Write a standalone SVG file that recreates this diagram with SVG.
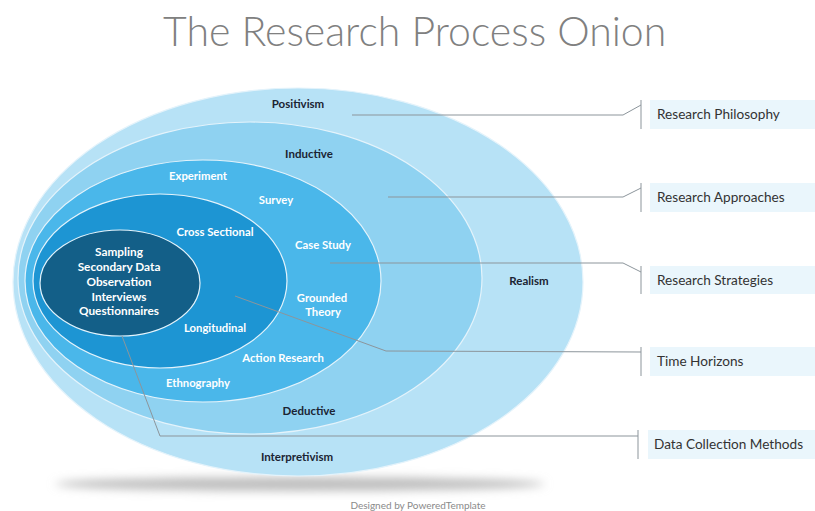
<svg xmlns="http://www.w3.org/2000/svg" width="815" height="511" viewBox="0 0 815 511">
  <defs>
    <filter id="soft" x="-20%" y="-200%" width="140%" height="500%">
      <feGaussianBlur stdDeviation="5"/>
    </filter>
    <style>
      .title { font-family: Lato, "Open Sans", sans-serif; font-weight: 300; font-size: 41px; fill: #808080; }
      .dark { font-family: Lato, "Open Sans", sans-serif; font-weight: 700; font-size: 11.5px; fill: #1b2433; text-anchor: middle; }
      .light { font-family: Lato, "Open Sans", sans-serif; font-weight: 700; font-size: 11.3px; fill: #ffffff; text-anchor: middle; }
      .core { font-family: Lato, "Open Sans", sans-serif; font-weight: 700; font-size: 11.8px; fill: #ffffff; text-anchor: middle; }
      .lbl { font-family: Lato, "Open Sans", sans-serif; font-size: 13.6px; fill: #333333; }
      .credit { font-family: Lato, "Open Sans", sans-serif; font-size: 10px; fill: #8a8a8a; text-anchor: middle; }
      .ring { stroke: #e4f3fb; stroke-width: 1.2; }
      .lead { fill: none; stroke: #8c959b; stroke-width: 1; }
      .box { fill: #eaf6fc; }
    </style>
  </defs>

  <rect width="815" height="511" fill="#ffffff"/>

  <text class="title" x="163" y="46">The Research Process Onion</text>

  <!-- ground shadow -->
  <ellipse cx="300" cy="484" rx="245" ry="7" fill="#bdbdbd" filter="url(#soft)"/>

  <!-- onion layers, outer to inner -->
  <g id="layer-philosophy">
    <ellipse class="ring" cx="298" cy="282" rx="285" ry="194" fill="#b7e2f6"/>
  </g>
  <g id="layer-approaches">
    <ellipse class="ring" cx="250" cy="278" rx="232" ry="156" fill="#8fd2f1"/>
  </g>
  <g id="layer-strategies">
    <ellipse class="ring" cx="203" cy="281" rx="178" ry="121" fill="#4ab7ea"/>
  </g>
  <g id="layer-time">
    <ellipse class="ring" cx="160" cy="281" rx="127" ry="87" fill="#1d95d3"/>
  </g>
  <g id="layer-methods">
    <ellipse class="ring" cx="120" cy="283" rx="80" ry="53" fill="#135f88"/>
  </g>

  <!-- leader lines -->
  <g id="connectors">
    <polyline class="lead" points="352,115 623,115 641,105"/>
    <line class="lead" x1="641" y1="100" x2="641" y2="129"/>
    <polyline class="lead" points="388,197 623,197 641,188"/>
    <line class="lead" x1="641" y1="183" x2="641" y2="212"/>
    <polyline class="lead" points="330,263 623,263 641,272"/>
    <line class="lead" x1="641" y1="266" x2="641" y2="294"/>
    <polyline class="lead" points="235,296 386,351 641,352"/>
    <line class="lead" x1="641" y1="347" x2="641" y2="376"/>
    <polyline class="lead" points="122,336 160,436 638,436"/>
    <line class="lead" x1="638" y1="430" x2="638" y2="459"/>
  </g>

  <!-- layer labels -->
  <g id="labels-philosophy">
    <text class="dark" x="298" y="108">Positivism</text>
    <text class="dark" x="529" y="285">Realism</text>
    <text class="dark" x="297" y="461">Interpretivism</text>
  </g>
  <g id="labels-approaches">
    <text class="dark" x="309" y="158">Inductive</text>
    <text class="dark" x="309" y="415">Deductive</text>
  </g>
  <g id="labels-strategies">
    <text class="light" x="198" y="180">Experiment</text>
    <text class="light" x="276" y="204">Survey</text>
    <text class="light" x="323" y="249">Case Study</text>
    <text class="light" x="322" y="302">Grounded</text>
    <text class="light" x="323" y="316">Theory</text>
    <text class="light" x="283" y="362">Action Research</text>
    <text class="light" x="198" y="387">Ethnography</text>
  </g>
  <g id="labels-time">
    <text class="light" x="215" y="236">Cross Sectional</text>
    <text class="light" x="215" y="332">Longitudinal</text>
  </g>
  <g id="labels-methods">
    <text class="core" x="119" y="256">Sampling</text>
    <text class="core" x="119" y="271">Secondary Data</text>
    <text class="core" x="119" y="286">Observation</text>
    <text class="core" x="119" y="301">Interviews</text>
    <text class="core" x="119" y="315">Questionnaires</text>
  </g>

  <!-- category boxes -->
  <g id="cat-philosophy">
    <rect class="box" x="650" y="100" width="165" height="29"/>
    <text class="lbl" x="657" y="119">Research Philosophy</text>
  </g>
  <g id="cat-approaches">
    <rect class="box" x="650" y="183" width="165" height="29"/>
    <text class="lbl" x="657" y="202">Research Approaches</text>
  </g>
  <g id="cat-strategies">
    <rect class="box" x="650" y="266" width="165" height="28"/>
    <text class="lbl" x="657" y="285">Research Strategies</text>
  </g>
  <g id="cat-time">
    <rect class="box" x="650" y="347" width="165" height="29"/>
    <text class="lbl" x="657" y="366">Time Horizons</text>
  </g>
  <g id="cat-methods">
    <rect class="box" x="648" y="430" width="167" height="29"/>
    <text class="lbl" x="654" y="449">Data Collection Methods</text>
  </g>

  <text class="credit" x="418" y="509">Designed by PoweredTemplate</text>
</svg>
